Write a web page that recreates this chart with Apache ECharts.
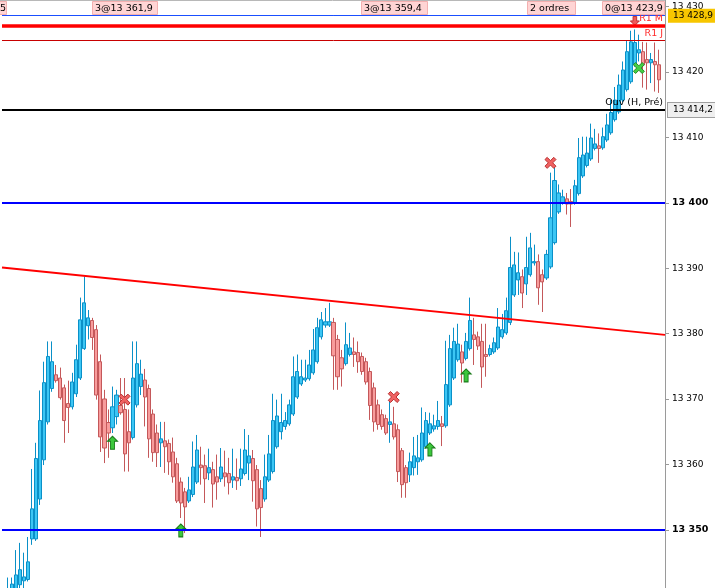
<!DOCTYPE html>
<html><head><meta charset="utf-8">
<script src="https://cdn.jsdelivr.net/npm/echarts@6/dist/echarts.min.js"></script>
<style>html,body{margin:0;padding:0;background:#fff}#c{width:715px;height:588px}</style>
</head><body><div id="c"></div>
<script>
// ---- candle data ----
const opens=[13336.2,13337.8,13339.3,13340.8,13341.6,13342.2,13342.4,13348.6,13348.6,13354.7,
13360.7,13366.5,13371.6,13373.7,13373.2,13371.7,13369.3,13368.8,13370.8,13373.2,
13377.7,13381.2,13382.0,13380.6,13375.7,13370.0,13366.4,13365.6,13367.3,13369.0,
13368.4,13365.0,13364.1,13369.1,13371.9,13372.9,13371.6,13367.7,13364.8,13363.3,
13363.6,13363.2,13361.9,13360.1,13357.3,13355.8,13354.4,13355.4,13357.3,13359.9,
13359.8,13358.7,13359.2,13358.1,13357.8,13358.7,13358.6,13357.6,13358.0,13357.8,
13358.6,13360.2,13360.9,13359.2,13356.3,13354.7,13357.6,13358.9,13362.7,13365.0,
13365.8,13366.2,13367.7,13370.3,13372.3,13372.9,13373.1,13374.0,13375.7,13379.5,
13381.3,13381.3,13381.7,13379.1,13376.3,13375.4,13376.8,13377.2,13377.1,13376.5,
13375.7,13374.2,13371.7,13369.1,13367.6,13367.0,13366.1,13366.2,13365.3,13362.1,
13359.5,13358.4,13359.5,13360.4,13360.7,13362.7,13364.8,13365.4,13365.8,13366.2,
13365.9,13369.1,13373.2,13376.0,13377.2,13376.2,13377.7,13379.8,13379.5,13378.8,
13376.8,13376.8,13377.2,13377.8,13379.5,13380.1,13381.7,13385.9,13388.2,13388.7,
13387.6,13389.0,13390.8,13391.0,13389.0,13388.5,13390.2,13393.9,13398.6,13400.0,
13400.6,13400.2,13400.0,13401.4,13404.1,13405.7,13406.7,13408.3,13408.7,13408.4,
13409.6,13410.7,13412.7,13413.9,13415.7,13417.3,13418.5,13421.1,13422.9,13423.1,
13421.9,13421.4,13421.6,13421.1];
const closes=[13340.1,13340.8,13341.7,13343.1,13343.9,13342.8,13345.1,13353.2,13360.9,13366.7,
13372.5,13376.5,13375.7,13372.8,13370.2,13366.7,13368.7,13372.6,13376.0,13382.1,
13384.7,13382.4,13379.4,13370.6,13364.2,13362.5,13364.8,13368.8,13370.6,13367.9,
13361.6,13363.3,13373.2,13375.4,13373.8,13370.3,13363.9,13361.8,13361.8,13363.9,
13362.7,13360.4,13358.1,13354.4,13354.1,13353.5,13356.1,13359.6,13362.2,13359.5,
13357.8,13359.5,13357.0,13357.3,13359.6,13358.1,13357.2,13358.1,13357.5,13359.3,
13362.2,13361.3,13357.5,13353.2,13353.4,13358.1,13361.6,13366.7,13367.4,13366.4,
13366.7,13369.1,13373.4,13374.2,13373.4,13373.2,13375.2,13377.5,13380.9,13382.1,
13381.8,13381.8,13376.6,13373.4,13374.6,13378.3,13377.8,13376.8,13375.7,13374.2,
13372.6,13369.0,13366.5,13366.1,13365.8,13364.8,13366.5,13364.2,13358.9,13356.9,
13357.2,13360.4,13361.3,13361.0,13364.8,13366.7,13366.2,13365.9,13366.7,13365.8,
13372.2,13377.7,13378.8,13378.4,13375.5,13378.8,13382.0,13379.1,13378.1,13374.9,
13376.5,13377.7,13378.6,13381.0,13380.6,13383.5,13390.1,13390.5,13389.3,13386.2,
13390.1,13393.1,13391.0,13387.0,13387.9,13392.1,13397.7,13403.4,13401.5,13400.9,
13399.8,13399.8,13402.6,13406.9,13407.3,13407.6,13409.9,13409.0,13408.3,13410.1,
13411.9,13413.8,13415.7,13418.0,13420.3,13423.1,13424.6,13424.5,13423.4,13421.1,
13421.4,13421.9,13421.1,13418.8];
const lows=[13335.5,13337.5,13339.0,13340.5,13341.1,13341.1,13342.1,13347.7,13348.3,13353.8,
13359.9,13366.1,13371.1,13372.5,13369.9,13363.3,13364.8,13368.4,13370.3,13372.9,
13377.5,13379.1,13377.5,13369.9,13361.9,13360.2,13361.0,13364.8,13366.1,13367.6,
13358.9,13358.9,13363.8,13368.7,13370.6,13365.8,13361.0,13360.4,13359.6,13359.6,
13358.7,13358.4,13357.2,13354.1,13351.8,13349.5,13354.1,13355.0,13357.0,13356.9,
13354.1,13357.6,13353.4,13354.6,13357.3,13356.6,13355.4,13356.4,13356.1,13356.7,
13358.3,13357.6,13354.3,13350.5,13348.9,13354.3,13357.3,13358.6,13362.4,13363.8,
13365.3,13365.9,13367.4,13370.0,13372.0,13372.6,13372.8,13373.7,13375.4,13379.1,
13380.9,13381.0,13371.4,13371.4,13371.9,13375.1,13376.5,13374.9,13374.0,13373.7,
13372.2,13366.8,13365.0,13365.3,13365.3,13364.5,13363.3,13363.8,13357.3,13354.9,
13354.9,13357.3,13358.3,13358.4,13360.4,13362.4,13364.5,13365.0,13365.3,13362.8,
13365.6,13368.8,13372.9,13375.7,13372.5,13375.9,13377.4,13375.2,13377.5,13371.7,
13373.4,13376.5,13376.9,13377.5,13379.2,13379.8,13381.3,13385.6,13385.9,13383.9,
13385.9,13388.7,13390.4,13384.4,13383.3,13388.2,13389.9,13393.6,13398.3,13399.7,
13398.2,13396.3,13399.7,13401.1,13403.8,13405.4,13406.4,13408.0,13406.1,13408.1,
13409.3,13410.4,13412.4,13413.6,13415.4,13417.0,13418.2,13420.8,13421.6,13417.6,
13417.3,13418.3,13417.0,13416.8];
const highs=[13341.1,13342.7,13342.7,13346.9,13348.0,13346.5,13348.9,13359.3,13363.3,13371.3,
13375.7,13378.8,13378.8,13375.2,13374.8,13372.2,13372.8,13374.0,13378.3,13385.5,
13388.7,13383.6,13382.4,13381.3,13376.8,13371.4,13368.4,13371.9,13371.4,13373.2,
13373.2,13368.4,13378.8,13378.8,13376.0,13374.6,13372.2,13368.4,13366.1,13366.5,
13366.5,13363.8,13364.1,13361.0,13358.0,13356.4,13358.1,13363.5,13364.5,13362.7,
13361.5,13362.4,13360.4,13361.5,13362.5,13362.1,13361.0,13362.4,13360.9,13362.4,
13365.4,13364.5,13362.2,13359.9,13357.6,13361.5,13364.5,13370.8,13369.9,13370.8,
13368.0,13369.9,13376.5,13376.8,13376.0,13376.0,13377.5,13380.7,13382.4,13383.3,
13383.9,13384.7,13382.4,13379.8,13377.5,13381.7,13380.1,13379.4,13378.8,13377.1,
13376.3,13374.8,13372.5,13369.9,13368.4,13367.6,13369.9,13368.8,13366.1,13362.5,
13359.9,13361.8,13364.2,13364.5,13368.7,13368.0,13367.9,13367.6,13369.7,13367.4,
13378.9,13379.8,13380.9,13381.5,13378.3,13380.1,13385.5,13382.4,13380.3,13381.5,
13381.5,13378.3,13379.4,13383.9,13383.0,13385.5,13394.8,13392.5,13392.4,13389.8,
13394.8,13395.4,13393.6,13392.1,13389.8,13392.8,13404.6,13405.4,13402.8,13402.0,
13401.5,13402.1,13403.5,13409.9,13410.1,13410.1,13412.1,13411.3,13410.6,13411.5,
13413.6,13415.7,13417.7,13419.6,13421.6,13424.8,13426.3,13426.5,13425.7,13424.6,
13424.5,13422.9,13424.5,13423.4];

// ---- axis ticks ----
const yTicks=[13350,13360,13370,13380,13390,13400,13410,13420,13430];
const boldTicks=[13350,13400];

// ---- horizontal levels ----
const levelValues=[13428.6,13427.1,13424.8,13414.2,13400,13350];
const levelNames=['','R1 M','R1 J','Ouv (H, Pré)','',''];
const priceTags=['13 428,9','','','13 414,2','',''];

// ---- trend line ----
const trendX=[-0.5,164.5];
const trendY=[13390.1,13379.8];

// ---- signal markers ----
const redCrossIdx=[30,97,136], redCrossVal=[13369.9,13370.3,13406.1];
const greenCrossIdx=[158], greenCrossVal=[13420.6];
const upArrowIdx=[27,44,106,115], upArrowVal=[13363.3,13349.9,13362.3,13373.6];
const downArrowIdx=[157], downArrowVal=[13427.8];

// ---- order tags in top strip ----
const orderTags=['5','3@13 361,9','3@13 359,4','2 ordres','0@13 423,9'];

const N=165;
const categories=[];for(let i=0;i<N;i++)categories.push(String(i));
const fmt=v=>Math.round(v).toString().replace(/\B(?=(\d{3})+(?!\d))/g,' ');

const levelStyle=[
 {color:'#1a4fff',width:1},
 {color:'#ff0000',width:3.5},
 {color:'#c80000',width:1},
 {color:'#000000',width:2},
 {color:'#0000ff',width:2},
 {color:'#0000ff',width:2}];
const levelTextColor=['#000','#ff2a2a','#ff2a2a','#000','#000','#000'];
const tagStyle=[
 {backgroundColor:'#f7c600',borderColor:'#d9a800',borderWidth:0},null,null,
 {backgroundColor:'#efefef',borderColor:'#a0a0a0',borderWidth:1},null,null];

const mlData=[];
levelValues.forEach((v,i)=>{
 mlData.push({yAxis:v,lineStyle:{color:levelStyle[i].color,width:levelStyle[i].width,type:'solid'},
  label:{show:!!levelNames[i],position:'insideEndTop',formatter:levelNames[i],distance:2,
   color:levelTextColor[i],fontFamily:'DejaVu Sans',fontSize:9.5}});
 if(priceTags[i]){
  mlData.push({yAxis:v,lineStyle:{color:levelStyle[i].color,width:levelStyle[i].width,type:'solid'},
   label:Object.assign({show:true,position:'end',formatter:priceTags[i],distance:3,color:'#000',
    fontFamily:'DejaVu Sans',fontSize:9,padding:[3,3,2,5],width:39},tagStyle[i])});
 }
});

const pts=(a,b)=>a.map((x,i)=>[x,b[i]]);
const crossPath='path://M0,2 L2,0 L5,3 L8,0 L10,2 L7,5 L10,8 L8,10 L5,7 L2,10 L0,8 L3,5 Z';
const upPath='path://M5,0 L10,5 L7,5 L7,13 L3,13 L3,5 L0,5 Z';
const downPath='path://M3,0 L7,0 L7,5 L10,5 L5,10 L0,5 L3,5 Z';

const tagBoxes=[[-4,10],[92,65],[361,66],[527,48],[602,62]];
const graphics=[{type:'line',shape:{x1:0,y1:0.5,x2:665,y2:0.5},style:{stroke:'#b8b8b8',lineWidth:1},z:10}];
orderTags.forEach((t,i)=>{
 graphics.push({type:'rect',shape:{x:tagBoxes[i][0]+0.5,y:1.5,width:tagBoxes[i][1],height:13},
  style:{fill:'#ffd4d4',stroke:'#f3b0b0',lineWidth:1},z:10});
 graphics.push({type:'text',x:i===0?0:tagBoxes[i][0]+3,y:8.5,
  style:{text:t,font:'9.5px "DejaVu Sans"',fill:'#000',verticalAlign:'middle',textVerticalAlign:'middle'},z:11});
});

const chart=echarts.init(document.getElementById('c'),null,{renderer:'canvas'});
chart.setOption({
 animation:false,
 backgroundColor:'#ffffff',
 grid:{left:2,right:50,top:0,bottom:0,containLabel:false},
 xAxis:[{type:'category',data:categories,boundaryGap:true,show:false},
        {type:'value',min:trendX[0],max:trendX[1],show:false}],
 yAxis:{type:'value',position:'right',min:13341.1,max:13431.0,scale:true,
  splitLine:{show:false},
  axisLine:{show:true,onZero:false,lineStyle:{color:'#9a9a9a',width:1}},
  axisTick:{show:true,length:4,customValues:yTicks,lineStyle:{color:'#9a9a9a'}},
  axisLabel:{customValues:yTicks,margin:7,color:'#000',fontFamily:'DejaVu Sans',fontSize:9,
   formatter:v=>boldTicks.indexOf(v)>=0?'{b|'+fmt(v)+'}':fmt(v),
   rich:{b:{fontWeight:'bold',fontSize:9.5,fontFamily:'DejaVu Sans',color:'#000'}}}},
 series:[
  {type:'candlestick',xAxisIndex:0,clip:true,barWidth:3.6,z:2,
   data:opens.map((o,i)=>[o,closes[i],lows[i],highs[i]]),
   itemStyle:{color:'#3cc6f4',color0:'#f89c9c',borderColor:'#0a90c8',borderColor0:'#c4585a',borderWidth:1}},
  {type:'line',xAxisIndex:1,z:3,symbol:'none',silent:true,data:pts(trendX,trendY),
   lineStyle:{color:'#ff0000',width:2},
   markLine:{symbol:['none','none'],silent:true,animation:false,data:mlData}},
  {type:'scatter',xAxisIndex:0,z:4,symbol:crossPath,symbolSize:11,data:pts(redCrossIdx,redCrossVal),
   itemStyle:{color:'#f06262',borderColor:'#b83030',borderWidth:1,opacity:1}},
  {type:'scatter',xAxisIndex:0,z:4,symbol:crossPath,symbolSize:11,data:pts(greenCrossIdx,greenCrossVal),
   itemStyle:{color:'#44d044',borderColor:'#2a8a2a',borderWidth:1,opacity:1}},
  {type:'scatter',xAxisIndex:0,z:4,symbol:upPath,symbolSize:[10,13],data:pts(upArrowIdx,upArrowVal),
   itemStyle:{color:'#3cc83c',borderColor:'#1a7a1a',borderWidth:1,opacity:1}},
  {type:'scatter',xAxisIndex:0,z:4,symbol:downPath,symbolSize:[9,9],data:pts(downArrowIdx,downArrowVal),
   itemStyle:{color:'#f05a5a',borderColor:'#c03030',borderWidth:1,opacity:1}}
 ],
 graphic:graphics
});
</script></body></html>
